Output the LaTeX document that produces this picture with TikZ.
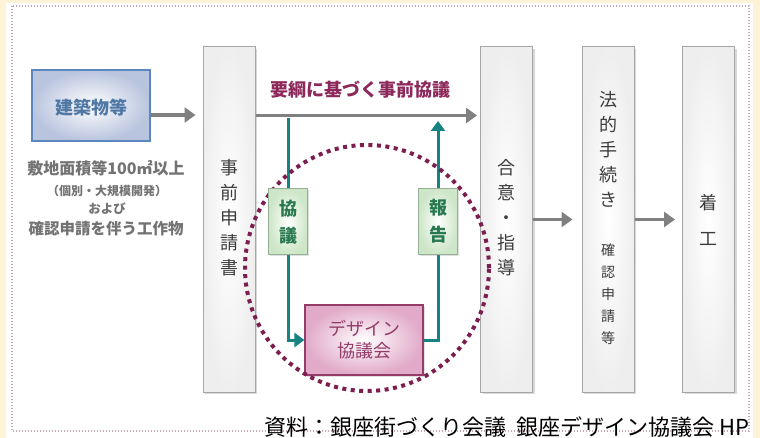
\documentclass[tikz,border=0pt]{standalone}
\usepackage{fontspec}
\newfontfamily\jp{Noto Sans CJK JP}
\usetikzlibrary{arrows.meta,shadows,calc}
\definecolor{cream}{RGB}{255,243,215}
\definecolor{dotb}{RGB}{200,165,185}
\definecolor{garr}{RGB}{128,128,128}
\definecolor{teal1}{RGB}{22,130,130}
\definecolor{wine}{RGB}{125,30,80}
\definecolor{wtext}{RGB}{140,40,90}
\definecolor{bluebd}{RGB}{90,135,190}
\definecolor{bluef}{RGB}{185,196,222}
\definecolor{bluet}{RGB}{80,120,165}
\definecolor{greybd}{RGB}{165,165,165}
\definecolor{greyt}{RGB}{60,60,60}
\definecolor{grnbd}{RGB}{150,175,150}
\definecolor{grnf}{RGB}{205,230,200}
\definecolor{grnt}{RGB}{40,120,80}
\definecolor{pinkf}{RGB}{225,170,200}
\definecolor{pinkbd}{RGB}{150,60,105}
\definecolor{pinkt}{RGB}{145,60,105}
\definecolor{lefttxt}{RGB}{115,115,115}
\begin{document}
\begin{tikzpicture}[x=1pt,y=-1pt,
  gbox/.style={draw=greybd, line width=1pt, inner color=white, outer color=gray!13,
    minimum width=52pt, minimum height=345pt, inner sep=0pt,
    drop shadow={opacity=0.3, shadow xshift=2pt, shadow yshift=-2pt}},
  vtext/.style={font=\jp\fontsize{18}{25}\selectfont, text=greyt, align=center, inner sep=0pt},
  ltext/.style={font=\jp\bfseries, text=lefttxt, inner sep=0pt},
  garrow/.style={draw=garr, line width=3.5pt, -{Triangle[length=11pt,width=15pt]}},
  tline/.style={draw=teal1, line width=3pt},
  tarrow/.style={tline, -{Triangle[length=10pt,width=14pt]}},
  ksize/.style={minimum width=39pt, minimum height=66pt, inner sep=0pt},
  kbox/.style={ksize, draw=grnbd, line width=1pt, inner color=white, outer color=grnf,
    align=center, font=\jp\bfseries\fontsize{18}{27}\selectfont, text=grnt,
    drop shadow={opacity=0.25, shadow xshift=1.5pt, shadow yshift=-1.5pt}},
]
\useasboundingbox (0,0) rectangle (760,438);
\fill[cream] (0,0) rectangle (760,438);
\fill[white] (6,3) rectangle (753,438);
\draw[dotb, line width=1.2pt, dash pattern=on 1.2pt off 1.8pt] (12,6) rectangle (749,431);

% left block
\node[draw=bluebd, line width=1.2pt, inner color=white, outer color=bluef,
  minimum width=118pt, minimum height=71pt, inner sep=0pt] (kc) at (91,105.5) {};
\node[font=\jp\bfseries\fontsize{18}{18}\selectfont, text=bluet, inner sep=0pt] (kct) at (91,108) {建築物等};
\node[ltext, font=\jp\bfseries\fontsize{16}{16}\selectfont] (l1) at (106,168) {敷地面積等100㎡以上};
\node[ltext, font=\jp\bfseries\fontsize{12}{12}\selectfont] (l2) at (107,191) {（個別・大規模開発）};
\node[ltext, font=\jp\bfseries\fontsize{12.5}{12.5}\selectfont] (l3) at (107,209) {および};
\node[ltext, font=\jp\bfseries\fontsize{15.5}{15.5}\selectfont] (l4) at (106,229) {確認申請を伴う工作物};

% tall boxes
\node[gbox] (jz) at (229,219.5) {};
\node[gbox] (gi) at (506.5,219.5) {};
\node[gbox] (ht) at (608,219.5) {};
\node[gbox] (ck) at (708.5,219.5) {};

\node[vtext] (jzt) at (229,218) {事\\前\\申\\請\\書};
\node[vtext] (git) at (506.5,218) {合\\意\\・\\指\\導};
\node[vtext] (htt) at (608,149) {法\\的\\手\\続\\き};
\node[vtext, font=\jp\fontsize{14}{22}\selectfont] (htt2) at (608,294) {確\\認\\申\\請\\等};
\node[vtext, font=\jp\fontsize{18}{36}\selectfont] (ckt) at (708.5,220) {着\\工};

% grey arrows
\coordinate (ka) at ([yshift=-9.5pt]kc.east);
\draw[garrow, shorten >=7pt] (ka) -- (ka -| jz.west);
\coordinate (ma) at ($(jz.north east)+(0,69)$);
\draw[garrow, shorten >=3pt] (ma) -- (ma -| gi.west);
\node[font=\jp\bfseries\fontsize{18}{18}\selectfont, text=wtext, inner sep=0pt] (yk) at (360,90) {要綱に基づく事前協議};
\draw[garrow, shorten >=9pt] (gi.east) -- (ht.west);
\draw[garrow, shorten >=7pt] (ht.east) -- (ck.west);

% design council
\node[draw=pinkbd, line width=1.2pt, inner color=white, outer color=pinkf,
  minimum width=118pt, minimum height=70pt, inner sep=0pt, align=center,
  font=\jp\fontsize{18}{22}\selectfont, text=pinkt,
  drop shadow={opacity=0.25, shadow xshift=1.5pt, shadow yshift=-1.5pt}] (dz) at (364,340) {デザイン\\協議会};

% teal connectors
\coordinate (kt) at (288,118);
\coordinate (hkt) at (438,118);
\path node[ksize] (ky) at (288,222) {} node[ksize] (hk) at (438,221.5) {};
\draw[tline] (kt) -- (ky.north);
\draw[tarrow] (ky.south) |- (dz.west);
\draw[tline] (dz.east) -| (hk.south);
\draw[tarrow, shorten >=3pt] (hk.north) -- (hkt);

% dotted circle
\draw[wine, line width=4pt, dash pattern=on 4pt off 4.5pt] (367,268) ellipse [x radius=122pt, y radius=123pt];

\node[kbox] (kyv) at (ky) {協\\議};
\node[kbox] (hkv) at (hk) {報\\告};

% footer
\node[font=\jp\fontsize{22}{22}\selectfont, text=black, inner sep=0pt] (ft) at (507,427) {資料：銀座街づくり会議\hspace{0.45em}銀座デザイン協議会 HP};
\end{tikzpicture}
\end{document}
